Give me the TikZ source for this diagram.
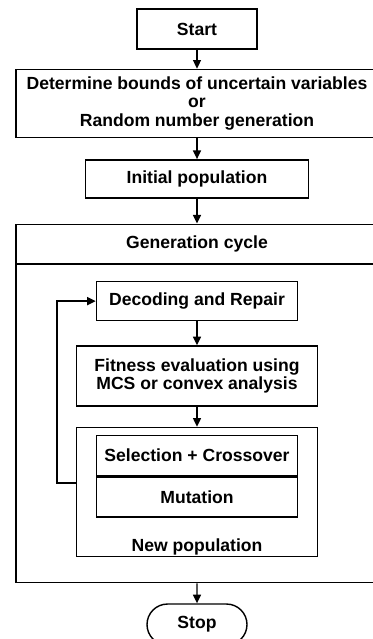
\documentclass[tikz,border=0pt]{standalone}
\usepackage{fontspec}
\setmainfont{Liberation Sans}
\usepackage{tikz}
\usetikzlibrary{positioning, arrows.meta, shapes.misc}

\begin{document}
\begin{tikzpicture}[
    node distance=0.6cm and 0.0cm,
    box/.style={rectangle, draw=black, line width=1.2pt,
      inner sep=0pt, align=center,
      font=\fontsize{15}{15.5}\selectfont\bfseries},
    arr/.style={-{Triangle[length=2.6mm, width=2.4mm]}, line width=1.2pt}]
    \useasboundingbox (0,0) rectangle (11.16,-19.17);
    \node[box, minimum width=3.6cm, minimum height=1.2cm] (start) at (5.91,-0.87) {Start};
    \node[box, minimum width=10.86cm, minimum height=2.04cm, below=0.57cm of start] (bounds)
      {Determine bounds of uncertain variables\\or\\Random number generation};
    \node[box, minimum width=6.69cm, minimum height=1.14cm, below=0.63cm of bounds] (init) {Initial population};
    \node[box, minimum width=10.86cm, minimum height=1.17cm, below=0.75cm of init] (genhead) {Generation cycle};
    \node[box, minimum width=10.86cm, minimum height=9.54cm, below=0cm of genhead] (genbody) {};
    \node[box, minimum width=6.03cm, minimum height=1.17cm, below=0.51cm of genhead] (decode) {Decoding and Repair};
    \node[box, minimum width=7.23cm, minimum height=1.8cm, below=0.72cm of decode] (fitness)
      {Fitness evaluation using\\MCS or convex analysis};
    \node[box, minimum width=7.23cm, minimum height=3.87cm, below=of fitness] (newpop) {};
    \node[box, minimum width=6.03cm, minimum height=1.2cm, below=0.24cm of newpop.north] (select) {Selection + Crossover};
    \node[box, minimum width=6.03cm, minimum height=1.2cm, below=0cm of select] (mutate) {Mutation};
    \node[box, draw=none, anchor=base] (newlbl) at ([yshift=0.17cm]newpop.south) {New population};
    \node[box, rounded rectangle, minimum width=3.0cm, minimum height=1.23cm, below=of genbody] (stop) {Stop};
    \coordinate (loopturn) at (1.71,-14.49);
    \draw[arr] (start)   -- (bounds);
    \draw[arr] (bounds)  -- (init);
    \draw[arr] (init)    -- (genhead);
    \draw[arr] (decode)  -- (fitness);
    \draw[arr] (fitness) -- (newpop);
    \draw[arr] (genbody) -- (stop);
    \draw[arr] (loopturn -| newpop.west) -- (loopturn) |- (decode.west);
  \end{tikzpicture}
\end{document}
